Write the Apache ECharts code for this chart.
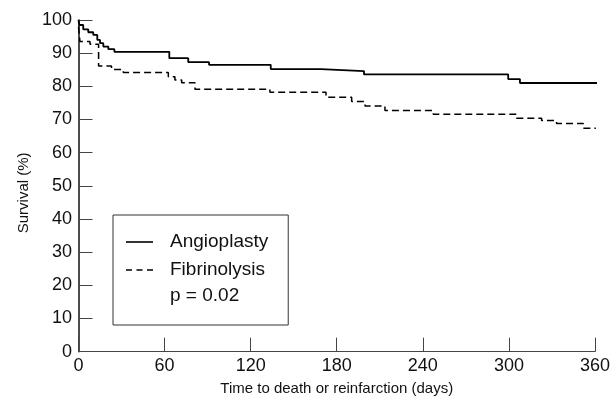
<!DOCTYPE html>
<html>
<head>
<meta charset="utf-8">
<script src="https://cdn.jsdelivr.net/npm/echarts@6/dist/echarts.min.js"></script>
<style>
html,body{margin:0;padding:0;background:#fff;}
#chart{width:613px;height:405px;}
</style>
</head>
<body>
<div id="chart"></div>
<script>
// Kaplan-Meier step data (days, survival %)
const angioDays = [0, 0.5, 3.3, 6.8, 10.3, 13.1, 15, 17.3, 20.8, 25, 63.3, 76.5, 91, 134, 169, 199, 299.5, 307.7, 364.6];
const angioSurv = [100, 98.5, 97.2, 96.3, 95.5, 94.0, 93.0, 92.0, 91.2, 90.4, 88.5, 87.3, 86.5, 85.2, 84.6, 83.6, 82.2, 81.0, 81.0];
const fibDays = [0, 1, 8, 14, 23, 31.2, 62.6, 67.2, 71.9, 81.2, 133.4, 172.5, 190.4, 199.7, 213.6, 247.3, 305.4, 322.8, 333.2, 351.8, 360.6];
const fibSurv = [98, 93.5, 92.7, 86.1, 85.1, 84.2, 82.9, 81.9, 81.1, 79.1, 78.2, 76.7, 75.4, 74.1, 72.7, 71.6, 70.4, 69.7, 68.8, 67.4, 67.4];
const xTicks = [0, 60, 120, 180, 240, 300, 360];
const yTicks = [0, 10, 20, 30, 40, 50, 60, 70, 80, 90, 100];
const seriesNames = ['Angioplasty', 'Fibrinolysis'];
const pText = 'p = 0.02';

const FONT = "'Liberation Sans', Arial, sans-serif";
const zip = (a, b) => a.map((v, i) => [v, b[i]]);

const chart = echarts.init(document.getElementById('chart'), null, {renderer: 'canvas'});
chart.setOption({
  animation: false,
  backgroundColor: '#fff',
  grid: {left: 78.5, right: 18, top: 20, bottom: 53.3, containLabel: false},
  xAxis: {
    type: 'value', min: xTicks[0], max: xTicks[xTicks.length - 1], interval: 60,
    name: 'Time to death or reinfarction (days)', nameLocation: 'middle', nameGap: 30,
    nameTextStyle: {fontFamily: FONT, fontSize: 15, color: '#111'},
    axisLine: {lineStyle: {color: '#444', width: 1}},
    axisTick: {inside: true, length: 14, lineStyle: {color: '#444', width: 1}},
    axisLabel: {fontFamily: FONT, fontSize: 18, color: '#111', margin: 5},
    splitLine: {show: false}
  },
  yAxis: {
    type: 'value', min: yTicks[0], max: yTicks[yTicks.length - 1], interval: 10,
    name: 'Survival (%)', nameLocation: 'middle', nameGap: 46, nameRotate: 90,
    nameTextStyle: {fontFamily: FONT, fontSize: 15, color: '#111', padding: [0, 14, 0, 0]},
    axisLine: {lineStyle: {color: '#111', width: 1.5}},
    axisTick: {inside: true, length: 14, lineStyle: {color: '#444', width: 1}},
    axisLabel: {fontFamily: FONT, fontSize: 18, color: '#111', margin: 6.5},
    splitLine: {show: false}
  },
  legend: {
    orient: 'vertical', left: 113, top: 215,
    data: [
      {name: seriesNames[0], icon: 'path://M0,0h27v1.6h-27z'},
      {name: seriesNames[1], icon: 'path://M0,0h6v1.4h-6zM10.5,0h6v1.4h-6zM21,0h6v1.4h-6z'}
    ],
    itemWidth: 27, itemHeight: 2, itemGap: 6,
    padding: [16, 20, 44, 13],
    borderColor: '#333', borderWidth: 1,
    itemStyle: {color: '#000', borderWidth: 0},
    lineStyle: {width: 0},
    textStyle: {fontFamily: FONT, fontSize: 19, color: '#111', padding: [0, 0, 0, 12], lineHeight: 22}
  },
  graphic: [{
    type: 'text', left: 170, top: 286,
    style: {text: pText, font: '19px ' + FONT, fill: '#111'}
  }],
  series: [
    {
      name: seriesNames[0], type: 'line', step: 'end', symbol: 'none', clip: false,
      data: zip(angioDays, angioSurv),
      lineStyle: {color: '#000', width: 1.8, type: 'solid'},
      itemStyle: {color: '#000'}
    },
    {
      name: seriesNames[1], type: 'line', step: 'end', symbol: 'none', clip: false,
      data: zip(fibDays, fibSurv),
      lineStyle: {color: '#000', width: 1.5, type: [7, 4]},
      itemStyle: {color: '#000'}
    }
  ]
});
</script>
</body>
</html>
